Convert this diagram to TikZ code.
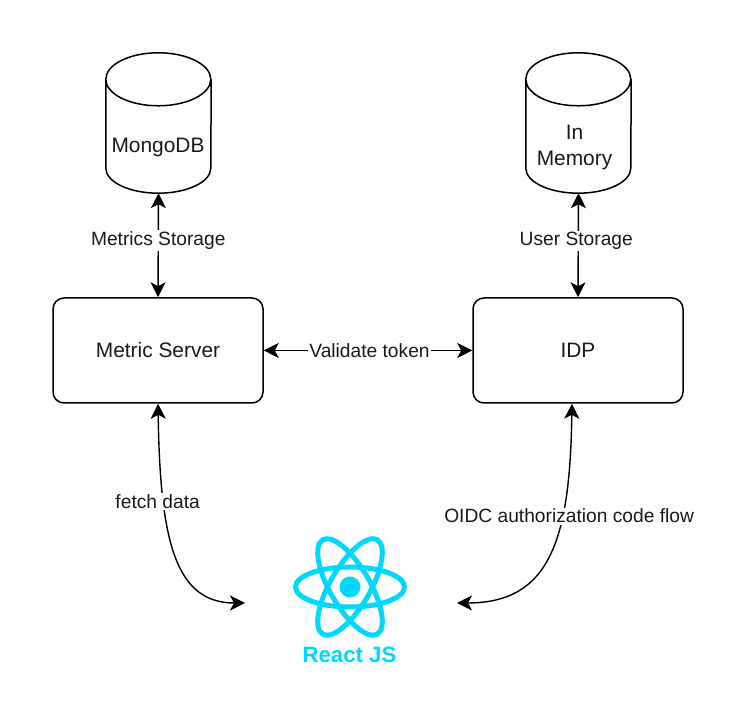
\documentclass[tikz,border=0pt]{standalone}
\usepackage{fontspec}
\setmainfont{Liberation Sans}
\usetikzlibrary{arrows.meta}
\definecolor{txtc}{HTML}{1A1A1A}
\definecolor{reactc}{HTML}{00D8FF}
\tikzset{
  x=1pt,y=1pt,
  boxnode/.style={draw=black,line width=1.5pt,rounded corners=11pt,minimum width=210pt,minimum height=105pt,inner sep=0pt,font=\fontsize{20.9}{24}\selectfont,text=txtc},
  dbnode/.style={minimum width=105pt,minimum height=140pt,inner sep=0pt},
  dbtext/.style={align=center,font=\fontsize{20.9}{26}\selectfont,text=txtc,inner sep=0pt},
  dbline/.style={draw=black,line width=1.5pt},
  conn/.style={draw=black,line width=1.4pt,{Stealth[length=15pt,width=15pt,inset=4pt]}-{Stealth[length=15pt,width=15pt,inset=4pt]}},
  lbl/.style={fill=white,inner sep=1.5pt,font=\fontsize{19.2}{22}\selectfont,text=txtc},
  orbit/.style={draw=reactc,line width=5pt},
}
\begin{document}
\begin{tikzpicture}
\useasboundingbox (0,0) rectangle (748,727);
\fill[white] (0,0) rectangle (748,727);

\node[boxnode] (metric) at (158,376.5) {Metric Server};
\node[boxnode] (idp) at (578,376.5) {IDP};

\node[dbnode] (mongo) at (158.5,604) {};
\node[dbnode] (mem) at (578.5,604) {};
\foreach \n in {mongo,mem}{
  \draw[dbline] ([yshift=-26.5pt]\n.north west) arc[x radius=52.5,y radius=26.5,start angle=180,end angle=-180]
    -- ([yshift=25pt]\n.south west) arc[x radius=52.5,y radius=25,start angle=180,end angle=360]
    -- ([yshift=-26.5pt]\n.north east);
}
\node[dbtext] (mongotext) at (158,580) {MongoDB};
\node[dbtext] (memtext) at (574.5,580) {In\\Memory};

% React logo
\coordinate (reactc) at (350,140);
\draw[orbit] (reactc) ellipse[x radius=54.5,y radius=20];
\draw[orbit,rotate around={60:(reactc)}] (reactc) ellipse[x radius=54.5,y radius=20];
\draw[orbit,rotate around={-60:(reactc)}] (reactc) ellipse[x radius=54.5,y radius=20];
\fill[reactc] (reactc) circle[radius=10.5];
\node[inner sep=0pt,text=reactc,font=\fontsize{22.2}{24}\bfseries\selectfont] (reacttext) at (349.5,72) {React JS};
\coordinate (reactl) at (245,124);
\coordinate (reactr) at (457,124);

\draw[conn] (mongo.south) -- node[lbl,pos=0.43,yshift=-3pt] {Metrics Storage} (metric.north);
\draw[conn] (mem.south) -- node[lbl,pos=0.43,yshift=-3pt,xshift=-2pt] {User Storage} (idp.north);
\draw[conn] (metric.east) -- node[lbl,xshift=1.5pt] {Validate token} (idp.west);
\draw[conn] (metric.south) .. controls (160,187) and (175,124) .. node[lbl,pos=0.28,xshift=-6pt] {fetch data} (reactl);
\draw[conn] ([xshift=-6pt]idp.south) .. controls (570,187) and (550,124) .. node[lbl,pos=0.33,xshift=7pt,yshift=-1pt] {OIDC authorization code flow} (reactr);
\end{tikzpicture}
\end{document}
